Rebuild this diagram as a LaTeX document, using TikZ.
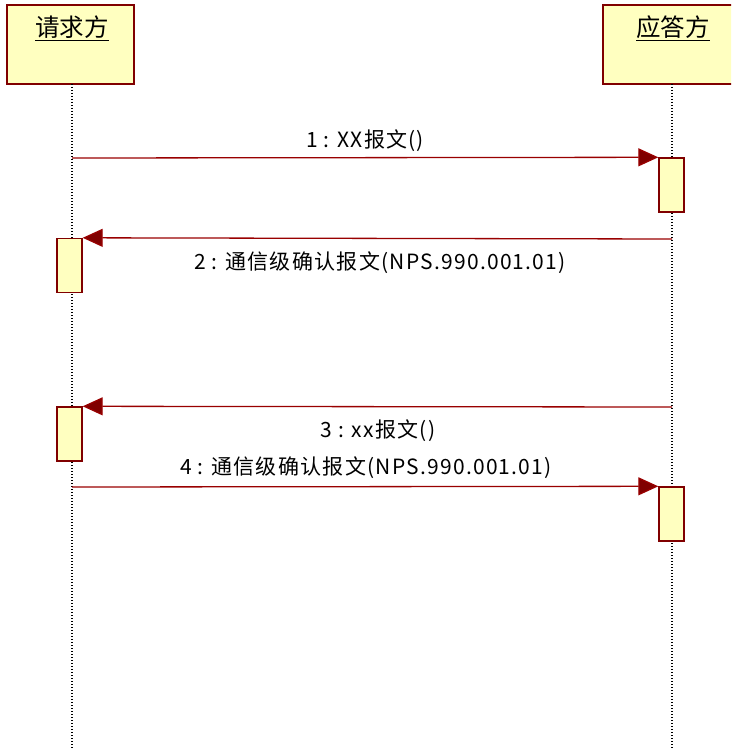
\documentclass[tikz,border=0pt]{standalone}
\usepackage{fontspec}
\setmainfont{Noto Sans CJK SC}
\newfontfamily\labelfont[LetterSpace=6]{Noto Sans CJK SC}
\usetikzlibrary{arrows.meta}
\definecolor{maroonc}{HTML}{800000}
\definecolor{linec}{HTML}{990000}
\definecolor{fillc}{HTML}{FFFFC0}
\tikzset{
  objbox/.style={draw=maroonc, fill=fillc, line width=1.6pt, minimum height=79pt, inner sep=0pt},
  objtitle/.style={font=\fontsize{24.5}{28}\selectfont, inner sep=0pt},
  actbox/.style={draw=maroonc, fill=fillc, line width=1.4pt, minimum width=25pt, minimum height=54pt, inner sep=0pt},
  lifeline/.style={black, line width=1.2pt, dash pattern=on 1pt off 2pt},
  msg/.style={draw=linec, line width=1.3pt, -{Triangle[length=20pt,width=18pt,fill=maroonc]}},
  msglabel/.style={font=\labelfont\fontsize{21}{24}\selectfont, inner sep=0pt},
}
\begin{document}
\begin{tikzpicture}[x=1pt,y=-1pt]
\useasboundingbox (0,0) rectangle (731,749);
\clip (0,0) rectangle (731,749);
% objects
\node[objbox, minimum width=127pt] (req) at (70.5,44.5) {};
\node[objbox, minimum width=140pt] (resp) at (673,44.5) {};
\node[objtitle] (reqt) at (72,28) {\underline{请求方}};
\node[objtitle] (respt) at (673,28) {\underline{应答方}};
% lifeline ends
\coordinate (reqend) at (72,749);
\coordinate (respend) at (672,749);
\draw[lifeline] (72,84) -- (reqend);
\draw[lifeline] (672,84) -- (respend);
% activations
\node[actbox] (a1) at (671.5,185) {};
\node[actbox] (a2) at (69.5,265.5) {};
\node[actbox] (a3) at (69.5,434) {};
\node[actbox] (a4) at (671.5,514) {};
% message start points on lifelines
\coordinate (s1) at (72,158);
\coordinate (s2) at (672,239);
\coordinate (s3) at (672,407);
\coordinate (s4) at (72,487);
\draw[msg] (s1) -- (a1.north west);
\draw[msg] (s2) -- (a2.north east);
\draw[msg] (s3) -- (a3.north east);
\draw[msg] (s4) -- (a4.north west);
% labels
\node[msglabel] (m1) at (365,141) {1 : XX报文()};
\node[msglabel] (m2) at (380,263) {2 : 通信级确认报文(NPS.990.001.01)};
\node[msglabel] (m3) at (378,431) {3 : xx报文()};
\node[msglabel] (m4) at (366,468) {4 : 通信级确认报文(NPS.990.001.01)};
\end{tikzpicture}
\end{document}
